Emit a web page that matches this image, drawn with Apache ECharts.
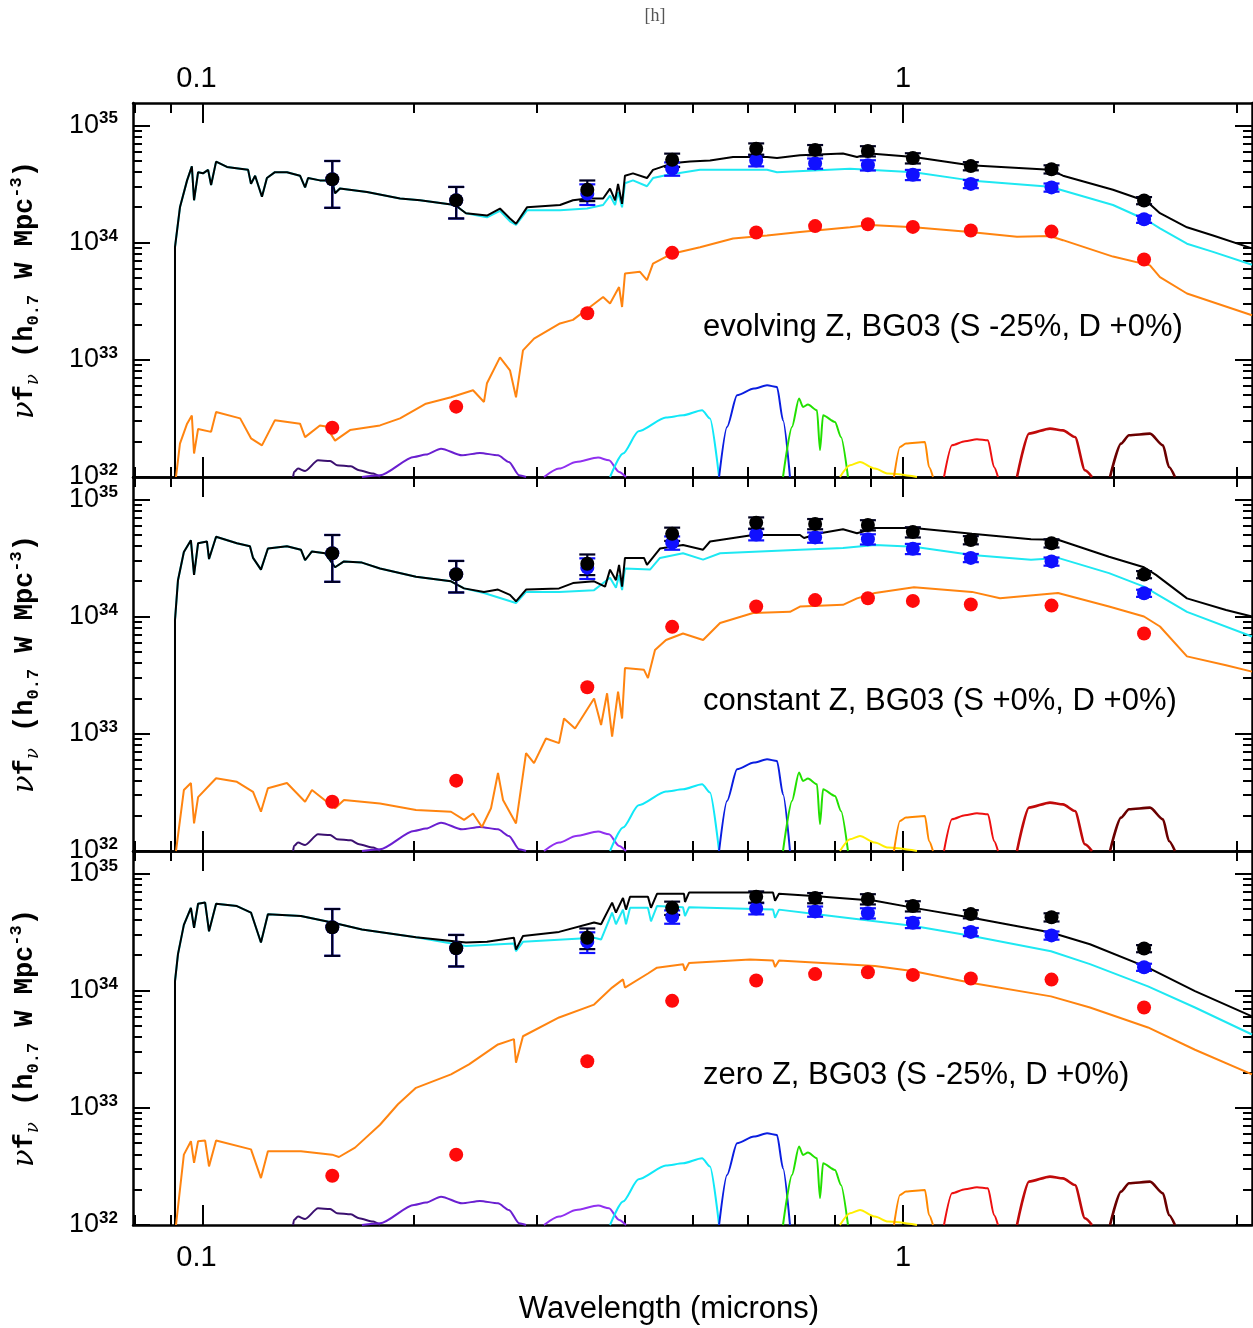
<!DOCTYPE html>
<html>
<head>
<meta charset="utf-8">
<title>SED model comparison</title>
<script src="https://cdn.jsdelivr.net/npm/echarts@6/dist/echarts.min.js"></script>
<style>
  html, body { margin: 0; padding: 0; background: #fff; }
  #main { width: 1253px; height: 1328px; }
</style>
</head>
<body>
<div id="main"></div>
<script>
// photometric bands (microns): FUV NUV u g r i z Y J H K
var bandWave = [0.153, 0.230, 0.354, 0.468, 0.617, 0.749, 0.891, 1.033, 1.25, 1.63, 2.21];
// log10(nu f_nu) of the measured points
var blackLog = [34.54, 34.36, 34.45, 34.705, 34.80, 34.79, 34.78, 34.72, 34.652, 34.625, 34.358];
var blueLog  = [34.54, 34.36, 34.417, 34.63, 34.70, 34.675, 34.66, 34.578, 34.50, 34.47, 34.199];
var redLog   = [32.42, 32.60, 33.397, 33.912, 34.085, 34.14, 34.156, 34.133, 34.102, 34.093, 33.855];
// fractional errors of the black / blue points
var bandErr  = [0.43, 0.30, 0.20, 0.13, 0.11, 0.10, 0.10, 0.10, 0.08, 0.08, 0.07];

// filter curves [wavelength, log10 value] (same in every panel)
var filtFUV = [[0.1345,32.0],[0.1349,32.043],[0.1367,32.072],[0.1399,32.051],[0.1460,32.142],[0.1519,32.137],[0.1554,32.10],[0.1627,32.091],[0.1671,32.057],[0.1750,32.029],[0.1790,32.0]];
var filtNUV = [[0.1687,32.0],[0.1790,32.015],[0.2002,32.171],[0.2082,32.191],[0.2188,32.242],[0.2344,32.185],[0.2487,32.205],[0.2639,32.185],[0.2736,32.128],[0.2828,32.015],[0.2894,32.0]];
var filtU = [[0.3070,32.0],[0.3226,32.072],[0.3411,32.128],[0.3668,32.166],[0.3802,32.142],[0.3930,32.043],[0.4021,32.0]];
var filtG = [[0.3815,32.0],[0.3981,32.20],[0.4190,32.39],[0.4586,32.507],[0.4850,32.526],[0.5164,32.569],[0.5301,32.498],[0.5461,32.0]];
var filtR = [[0.5461,32.0],[0.5606,32.427],[0.5794,32.697],[0.6126,32.754],[0.6394,32.782],[0.6607,32.768],[0.6739,32.484],[0.6896,32.0]];
var filtI = [[0.6739,32.0],[0.6941,32.427],[0.7103,32.669],[0.7197,32.597],[0.7316,32.618],[0.7536,32.569],[0.7611,32.228],[0.7687,32.526],[0.7996,32.469],[0.8155,32.341],[0.8345,32.0]];
var filtZ = [[0.8128,32.0],[0.8400,32.10],[0.8681,32.128],[0.9120,32.072],[0.9519,32.029],[1.0471,32.0]];
var filtY = [[0.9708,32.0],[0.9902,32.256],[1.0099,32.285],[1.0750,32.299],[1.0893,32.085],[1.1037,32.0]];
var filtJ = [[1.1444,32.0],[1.1749,32.27],[1.2262,32.305],[1.2756,32.322],[1.3226,32.313],[1.3490,32.085],[1.3669,32.0]];
var filtH = [[1.4550,32.0],[1.5136,32.37],[1.6218,32.413],[1.6927,32.398],[1.7610,32.341],[1.8197,32.057],[1.8621,32.0]];
var filtK = [[1.9758,32.0],[2.0484,32.285],[2.1030,32.356],[2.2535,32.37],[2.3519,32.27],[2.3988,32.085],[2.4466,32.0]];
var filters = [filtFUV, filtNUV, filtU, filtG, filtR, filtI, filtZ, filtY, filtJ, filtH, filtK];
var filterColors = ['#3b1070', '#6a1fd0', '#9030f0', '#10e8f8', '#0a1ee0', '#22e000', '#ffee00', '#ff8800', '#ee1010', '#c00a0a', '#6b0000'];

// model spectra [wavelength, log10 nu f_nu]
// panel 1: evolving Z
var evoBlack = [[0.0912,32.0],[0.0912,33.96],[0.0927,34.30],[0.0949,34.53],[0.0964,34.65],[0.0971,34.36],[0.0984,34.60],[0.1000,34.59],[0.1017,34.62],[0.1027,34.49],[0.1044,34.69],[0.1082,34.645],[0.1130,34.63],[0.1160,34.62],[0.1171,34.50],[0.1187,34.57],[0.1214,34.39],[0.1234,34.55],[0.1267,34.60],[0.1318,34.60],[0.1376,34.57],[0.1399,34.47],[0.1413,34.55],[0.1469,34.53],[0.1529,34.53],[0.1544,34.42],[0.1569,34.46],[0.1715,34.43],[0.1912,34.375],[0.2042,34.36],[0.2291,34.32],[0.2375,34.25],[0.2545,34.23],[0.2656,34.29],[0.2745,34.205],[0.2800,34.16],[0.2903,34.30],[0.3236,34.32],[0.3377,34.36],[0.3537,34.375],[0.3729,34.375],[0.3815,34.46],[0.3879,34.36],[0.3917,34.50],[0.3969,34.33],[0.4007,34.57],[0.4114,34.59],[0.4308,34.55],[0.4394,34.62],[0.4601,34.66],[0.4755,34.68],[0.4963,34.69],[0.5301,34.70],[0.5718,34.73],[0.6394,34.73],[0.6607,34.72],[0.7126,34.745],[0.8209,34.76],[0.8596,34.73],[0.8972,34.76],[1.0368,34.73],[1.2466,34.66],[1.6218,34.62],[1.6927,34.57],[1.9953,34.45],[2.2311,34.35],[2.3287,34.25],[2.5450,34.13],[2.7730,34.06],[3.152,33.95]];
var evoCyanTail = [[0.2545,34.215],[0.2656,34.27],[0.2745,34.18],[0.2800,34.15],[0.2903,34.275],[0.3236,34.275],[0.3537,34.29],[0.3729,34.32],[0.3815,34.40],[0.3879,34.32],[0.3917,34.43],[0.3969,34.30],[0.4007,34.505],[0.4114,34.53],[0.4308,34.48],[0.4394,34.55],[0.4601,34.575],[0.5129,34.62],[0.6394,34.62],[0.6607,34.60],[0.8400,34.63],[1.0368,34.60],[1.2466,34.53],[1.6218,34.475],[1.9953,34.32],[2.2311,34.19],[2.3287,34.12],[2.5450,33.99],[2.7730,33.92],[3.152,33.81]];
var evoOrange = [[0.0915,32.0],[0.0927,32.285],[0.0949,32.455],[0.0964,32.525],[0.0971,32.20],[0.0984,32.41],[0.1027,32.385],[0.1044,32.555],[0.1130,32.50],[0.1171,32.33],[0.1214,32.27],[0.1267,32.485],[0.1376,32.455],[0.1399,32.34],[0.1469,32.44],[0.1499,32.43],[0.1544,32.31],[0.1622,32.40],[0.1790,32.44],[0.1912,32.50],[0.2082,32.625],[0.2261,32.68],[0.2431,32.74],[0.2520,32.64],[0.2545,32.80],[0.2656,33.02],[0.2745,32.91],[0.2800,32.68],[0.2865,33.08],[0.2971,33.18],[0.3236,33.31],[0.3377,33.34],[0.3572,33.45],[0.3729,33.535],[0.3815,33.48],[0.3930,33.62],[0.3969,33.45],[0.4007,33.735],[0.4210,33.75],[0.4308,33.68],[0.4394,33.82],[0.4677,33.905],[0.5129,33.96],[0.5718,34.035],[0.6394,34.06],[0.7126,34.09],[0.8400,34.13],[0.8972,34.15],[1.0368,34.13],[1.2466,34.09],[1.4550,34.05],[1.6218,34.055],[1.6927,34.02],[1.9953,33.88],[2.2535,33.805],[2.3287,33.705],[2.5450,33.565],[3.152,33.38]];
// panel 2: constant Z
var constBlack = [[0.0912,32.0],[0.0912,33.97],[0.0921,34.31],[0.0939,34.55],[0.0961,34.65],[0.0971,34.355],[0.0984,34.625],[0.1013,34.64],[0.1020,34.49],[0.1044,34.68],[0.1118,34.625],[0.1167,34.60],[0.1179,34.50],[0.1210,34.40],[0.1238,34.58],[0.1318,34.60],[0.1380,34.57],[0.1399,34.48],[0.1431,34.555],[0.1494,34.54],[0.1544,34.42],[0.1590,34.47],[0.1687,34.46],[0.1790,34.41],[0.2015,34.34],[0.2261,34.30],[0.2360,34.24],[0.2520,34.21],[0.2639,34.23],[0.2745,34.185],[0.2800,34.13],[0.2894,34.23],[0.3226,34.24],[0.3377,34.285],[0.3620,34.30],[0.3753,34.255],[0.3815,34.40],[0.3890,34.31],[0.3930,34.44],[0.3969,34.255],[0.4007,34.50],[0.4266,34.50],[0.4308,34.44],[0.4496,34.58],[0.4850,34.61],[0.5181,34.57],[0.5301,34.64],[0.6106,34.695],[0.7126,34.695],[0.7221,34.67],[0.7611,34.71],[0.8209,34.745],[0.8596,34.71],[0.9120,34.755],[1.0368,34.755],[1.2548,34.705],[1.5236,34.66],[1.6651,34.655],[1.9693,34.51],[2.2093,34.42],[2.2984,34.355],[2.5450,34.155],[2.8940,34.055],[3.152,34.00]];
var constCyanTail = [[0.2520,34.20],[0.2800,34.115],[0.2894,34.21],[0.3226,34.21],[0.3620,34.225],[0.3815,34.33],[0.3890,34.245],[0.3930,34.355],[0.3969,34.225],[0.4007,34.41],[0.4351,34.40],[0.4496,34.50],[0.4850,34.54],[0.5181,34.485],[0.5479,34.54],[0.7126,34.57],[0.8209,34.585],[0.9120,34.61],[1.0368,34.595],[1.2548,34.525],[1.5236,34.485],[1.6651,34.50],[1.9693,34.37],[2.2093,34.255],[2.5450,34.04],[3.152,33.83]];
var constOrange = [[0.0915,32.0],[0.0939,32.52],[0.0961,32.58],[0.0971,32.235],[0.0984,32.46],[0.1044,32.62],[0.1118,32.59],[0.1179,32.505],[0.1210,32.335],[0.1238,32.535],[0.1318,32.58],[0.1399,32.42],[0.1431,32.52],[0.1544,32.365],[0.1590,32.435],[0.1790,32.405],[0.2015,32.35],[0.2261,32.335],[0.2360,32.265],[0.2431,32.32],[0.2503,32.205],[0.2579,32.365],[0.2639,32.665],[0.2683,32.435],[0.2800,32.235],[0.2894,32.835],[0.2971,32.75],[0.3090,32.96],[0.3226,32.92],[0.3279,33.13],[0.3400,33.045],[0.3620,33.30],[0.3704,33.075],[0.3778,33.345],[0.3841,32.975],[0.3917,33.36],[0.3969,33.13],[0.4007,33.56],[0.4266,33.545],[0.4322,33.475],[0.4423,33.715],[0.4586,33.80],[0.4850,33.855],[0.5181,33.80],[0.5479,33.945],[0.6106,34.03],[0.6896,34.04],[0.7126,34.085],[0.8209,34.10],[0.8596,34.155],[0.9120,34.20],[1.0368,34.25],[1.2548,34.21],[1.3759,34.155],[1.6651,34.20],[1.9693,34.085],[2.2093,34.00],[2.3287,33.915],[2.5450,33.66],[2.8940,33.585],[3.152,33.53]];
// panel 3: zero Z
var zeroBlack = [[0.0912,32.0],[0.0912,34.08],[0.0921,34.31],[0.0939,34.56],[0.0961,34.705],[0.0971,34.535],[0.0984,34.74],[0.1007,34.75],[0.1020,34.505],[0.1044,34.74],[0.1118,34.72],[0.1171,34.665],[0.1210,34.41],[0.1238,34.65],[0.1380,34.635],[0.1529,34.58],[0.1687,34.52],[0.2015,34.455],[0.2375,34.41],[0.2545,34.415],[0.2781,34.45],[0.2800,34.35],[0.2865,34.465],[0.3226,34.50],[0.3620,34.58],[0.3704,34.565],[0.3841,34.75],[0.3890,34.665],[0.3981,34.79],[0.4021,34.69],[0.4074,34.80],[0.4322,34.80],[0.4365,34.705],[0.4452,34.825],[0.4866,34.825],[0.4882,34.755],[0.4947,34.835],[0.6522,34.835],[0.6565,34.765],[0.6650,34.825],[0.7536,34.805],[0.9120,34.765],[1.0368,34.705],[1.2548,34.62],[1.6272,34.495],[1.8499,34.395],[2.2387,34.195],[2.6130,33.995],[3.152,33.78]];
var zeroCyanTail = [[0.2375,34.38],[0.2781,34.40],[0.2800,34.335],[0.2865,34.415],[0.3620,34.45],[0.3704,34.435],[0.3841,34.665],[0.3890,34.565],[0.3981,34.69],[0.4021,34.565],[0.4074,34.705],[0.4322,34.705],[0.4365,34.59],[0.4452,34.72],[0.4850,34.71],[0.4882,34.635],[0.4947,34.71],[0.6522,34.69],[0.6565,34.62],[0.6650,34.69],[0.7536,34.65],[0.9120,34.59],[1.0368,34.55],[1.2548,34.465],[1.6272,34.335],[1.8499,34.225],[2.2387,34.035],[2.6130,33.855],[3.152,33.625]];
var zeroOrange = [[0.0915,32.0],[0.0939,32.60],[0.0961,32.715],[0.0971,32.53],[0.0984,32.715],[0.1007,32.72],[0.1020,32.50],[0.1044,32.72],[0.1171,32.645],[0.1210,32.40],[0.1238,32.63],[0.1380,32.63],[0.1529,32.60],[0.1564,32.58],[0.1649,32.66],[0.1790,32.855],[0.1899,33.03],[0.2015,33.17],[0.2261,33.285],[0.2399,33.37],[0.2639,33.54],[0.2781,33.585],[0.2800,33.385],[0.2865,33.61],[0.3226,33.77],[0.3620,33.88],[0.3841,34.025],[0.3981,34.095],[0.4007,34.025],[0.4322,34.145],[0.4452,34.195],[0.4850,34.225],[0.4882,34.17],[0.4947,34.235],[0.6046,34.265],[0.6522,34.255],[0.6565,34.20],[0.6650,34.255],[0.9120,34.21],[1.0368,34.165],[1.2548,34.065],[1.6272,33.95],[1.8499,33.855],[2.2387,33.685],[2.6130,33.495],[3.152,33.285]];

var panelTitles = ['evolving Z, BG03 (S -25%, D +0%)', 'constant Z, BG03 (S +0%, D +0%)', 'zero Z, BG03 (S -25%, D +0%)'];
// cyan follows the black curve in the UV, up to the first wavelength of its own tail
function withUv(black, tail) {
  return black.filter(function (d) { return d[0] < tail[0][0]; }).concat(tail);
}
var panels = [
  { black: evoBlack, cyan: withUv(evoBlack, evoCyanTail), orange: evoOrange },
  { black: constBlack, cyan: withUv(constBlack, constCyanTail), orange: constOrange },
  { black: zeroBlack, cyan: withUv(zeroBlack, zeroCyanTail), orange: zeroOrange }
];

var log10 = Math.log10;
var xMin = -1.1, xMax = 0.4986, yMin = 32, yMax = 35.19;
var panelTop = [103, 477, 851], panelH = 374;
var xMajor = [0.1, 1].map(log10);
var xMinor = [0.08, 0.09, 0.2, 0.3, 0.4, 0.5, 0.6, 0.7, 0.8, 0.9, 2, 3].map(log10);
var yMajor = [32, 33, 34, 35];
var yMinor = [];
[32, 33, 34].forEach(function (d) {
  for (var k = 2; k <= 9; k++) yMinor.push(d + log10(k));
});

var chart = echarts.init(document.getElementById('main'));
var FONT = '"Liberation Sans", Arial, sans-serif';

var grids = [], xAxes = [], yAxes = [], series = [];

function xAxisDef(p, pos, major) {
  var showLabel = major && ((pos === 'top' && p === 0) || (pos === 'bottom' && p === 2));
  return {
    type: 'value', gridIndex: p, position: pos, min: xMin, max: xMax,
    axisLine: { show: major, onZero: false, lineStyle: { color: '#000', width: 2.5 } },
    axisTick: { show: true, inside: true, length: major ? 20 : 10, customValues: major ? xMajor : xMinor,
      lineStyle: { color: '#000', width: 2 } },
    axisLabel: {
      show: showLabel, customValues: xMajor, margin: pos === 'top' ? 10 : 18,
      formatter: function (v) { return v < -0.5 ? '{l|0.1}' : '{r|1}'; },
      rich: {
        l: { fontSize: 29, fontFamily: FONT, color: '#000', padding: [0, 13, 0, 0] },
        r: { fontSize: 29, fontFamily: FONT, color: '#000' }
      }
    },
    splitLine: { show: false }
  };
}
function yAxisDef(p, pos, major) {
  var showLabel = major && pos === 'left';
  return {
    type: 'value', gridIndex: p, position: pos, min: yMin, max: yMax,
    axisLine: { show: major, onZero: false, lineStyle: { color: '#000', width: 2.5 } },
    axisTick: { show: true, inside: true, length: major ? 17 : 9, customValues: major ? yMajor : yMinor,
      lineStyle: { color: '#000', width: 2 } },
    axisLabel: {
      show: showLabel, customValues: yMajor, margin: 15,
      formatter: function (v) { return '{b|10}{s|' + Math.round(v) + '}'; },
      rich: {
        b: { fontSize: 27, fontFamily: FONT, color: '#000', lineHeight: 30 },
        s: { fontSize: 17, fontWeight: 'bold', fontFamily: FONT, color: '#000', verticalAlign: 'top', lineHeight: 16 }
      }
    },
    splitLine: { show: false }
  };
}

function lineSeries(p, data, color, width, z, smooth) {
  return {
    type: 'line', xAxisIndex: p * 4, yAxisIndex: p * 4,
    data: data.map(function (d) { return [log10(d[0]), d[1]]; }),
    showSymbol: false, symbol: 'none', smooth: smooth || false, smoothMonotone: 'x',
    lineStyle: { color: color, width: width }, itemStyle: { color: color },
    z: z, silent: true
  };
}
function pointSeries(p, vals, color) {
  return {
    type: 'scatter', xAxisIndex: p * 4, yAxisIndex: p * 4,
    data: bandWave.map(function (w, i) { return [log10(w), vals[i]]; }),
    symbol: 'circle', symbolSize: 14, itemStyle: { color: color, opacity: 1 }, z: 6, silent: true
  };
}
function errorSeries(p, vals, color) {
  return {
    type: 'custom', xAxisIndex: p * 4, yAxisIndex: p * 4, z: 5, silent: true,
    data: bandWave.map(function (w, i) {
      var f = Math.pow(10, vals[i]);
      return [log10(w), log10(f * (1 - bandErr[i])), log10(f * (1 + bandErr[i]))];
    }),
    encode: { x: 0, y: [1, 2] },
    renderItem: function (params, api) {
      var lo = api.coord([api.value(0), api.value(1)]);
      var hi = api.coord([api.value(0), api.value(2)]);
      var w = 8, st = { stroke: color, lineWidth: 2.2 };
      return { type: 'group', children: [
        { type: 'line', shape: { x1: lo[0], y1: lo[1], x2: hi[0], y2: hi[1] }, style: st },
        { type: 'line', shape: { x1: lo[0] - w, y1: lo[1], x2: lo[0] + w, y2: lo[1] }, style: st },
        { type: 'line', shape: { x1: hi[0] - w, y1: hi[1], x2: hi[0] + w, y2: hi[1] }, style: st }
      ] };
    }
  };
}

var graphics = [
  { type: 'text', x: 655, y: 16, style: { text: '[h]', font: '18px "Liberation Serif", serif', fill: '#555', textAlign: 'center', textVerticalAlign: 'middle' } },
  { type: 'text', x: 669, y: 1309, style: { text: 'Wavelength (microns)', font: '31px ' + FONT, fill: '#000', textAlign: 'center', textVerticalAlign: 'middle' } }
];

panels.forEach(function (pd, p) {
  grids.push({ left: 133, top: panelTop[p], width: 1119, height: panelH, containLabel: false, outerBoundsMode: 'none' });
  xAxes.push(xAxisDef(p, 'bottom', true), xAxisDef(p, 'bottom', false), xAxisDef(p, 'top', true), xAxisDef(p, 'top', false));
  yAxes.push(yAxisDef(p, 'left', true), yAxisDef(p, 'left', false), yAxisDef(p, 'right', true), yAxisDef(p, 'right', false));

  filters.forEach(function (f, i) {
    series.push(lineSeries(p, f, filterColors[i], i >= 9 ? 2.6 : 2, 2, 0.25));
  });
  series.push(lineSeries(p, pd.cyan, '#1ee8f2', 2, 3));
  series.push(lineSeries(p, pd.black, '#000000', 2, 3));
  series.push(lineSeries(p, pd.orange, '#ff8410', 2, 3));
  series.push(errorSeries(p, blueLog, '#1010ff'));
  series.push(errorSeries(p, blackLog, '#000020'));
  series.push(pointSeries(p, blueLog, '#1010ff'));
  series.push(pointSeries(p, blackLog, '#000000'));
  series.push(pointSeries(p, redLog, '#ff0a0a'));

  var mid = panelTop[p] + panelH / 2;
  graphics.push({ type: 'text', x: 703, y: panelTop[p] + 224,
    style: { text: panelTitles[p], font: '31px ' + FONT, fill: '#000', textAlign: 'left', textVerticalAlign: 'middle' } });
  graphics.push({ type: 'text', x: 25, y: mid, rotation: Math.PI / 2,
    style: {
      text: '{n|ν}{m|f}{sn|ν}{m| (h}{sb|0.7}{m| W Mpc}{sp|-3}{m|)}',
      textAlign: 'center', textVerticalAlign: 'middle', fill: '#000',
      rich: {
        n: { fontSize: 29, fontStyle: 'italic', fontFamily: '"DejaVu Serif", serif', lineHeight: 34, fill: '#000' },
        m: { fontSize: 27, fontWeight: 'bold', fontFamily: '"Liberation Mono", monospace', lineHeight: 34, fill: '#000' },
        sn: { fontSize: 18, fontStyle: 'italic', fontFamily: '"DejaVu Serif", serif', verticalAlign: 'bottom', lineHeight: 18, fill: '#000' },
        sb: { fontSize: 17, fontWeight: 'bold', fontFamily: '"Liberation Mono", monospace', verticalAlign: 'bottom', lineHeight: 18, fill: '#000' },
        sp: { fontSize: 17, fontWeight: 'bold', fontFamily: '"Liberation Mono", monospace', verticalAlign: 'top', lineHeight: 18, fill: '#000' }
      }
    } });
});

chart.setOption({
  animation: false,
  backgroundColor: '#fff',
  grid: grids,
  xAxis: xAxes,
  yAxis: yAxes,
  series: series,
  graphic: graphics
});
window.onresize = function () { chart.resize(); };
</script>
</body>
</html>
